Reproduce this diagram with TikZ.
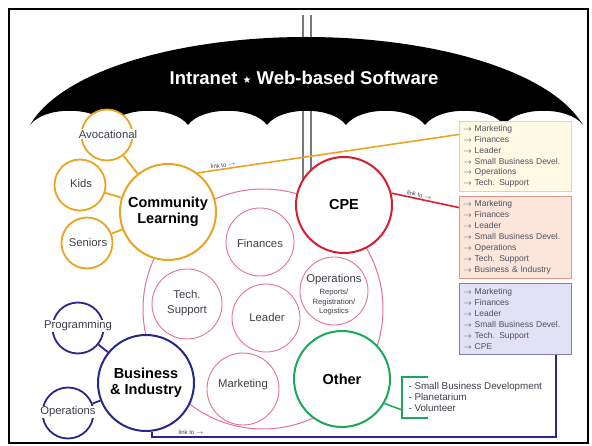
\documentclass[tikz,border=0pt]{standalone}
\usepackage{fontspec}
\setmainfont{Liberation Sans}
\newfontfamily\starfont{DejaVu Sans}
\usetikzlibrary{calc}

\definecolor{clOrange}{RGB}{234,164,36}
\definecolor{cpeRed}{RGB}{214,30,48}
\definecolor{deptPink}{RGB}{226,112,160}
\definecolor{otherGreen}{RGB}{28,168,88}
\definecolor{biNavy}{RGB}{40,40,140}
\definecolor{poleGray}{RGB}{120,120,120}
\definecolor{labelGray}{RGB}{62,62,72}
\definecolor{listGray}{RGB}{80,80,90}
\definecolor{boxOneFill}{RGB}{255,249,230}
\definecolor{boxOneLine}{RGB}{240,214,128}
\definecolor{boxTwoFill}{RGB}{252,230,220}
\definecolor{boxTwoLine}{RGB}{226,150,128}
\definecolor{boxThreeFill}{RGB}{226,226,246}
\definecolor{boxThreeLine}{RGB}{128,128,176}

\newcommand\fsz[2]{\fontsize{#1}{#2}\selectfont}
\newcommand\arr{$\rightarrow$}

\begin{document}
\begin{tikzpicture}[x=1pt,y=-1pt,
  hub/.style={circle, draw, line width=2pt, fill=white, inner sep=0pt,
    minimum size=96pt, font=\fsz{14.5}{16}\bfseries, align=center, text=black},
  leaf/.style={circle, draw, line width=1.8pt, fill=white, inner sep=0pt,
    minimum size=51pt},
  dept/.style={circle, draw=deptPink, line width=0.9pt, fill=white, inner sep=0pt,
    minimum size=68pt},
  tag/.style={font=\fsz{11.3}{15}, text=labelGray, align=center, inner sep=0.6pt},
  subtag/.style={font=\fsz{7.6}{9.5}, text=labelGray, align=center, inner sep=0pt},
  listbox/.style={draw, line width=0.8pt, anchor=north west, minimum width=112pt,
    text width=104pt, align=left, inner xsep=4pt, inner ysep=0pt,
    font=\fsz{8.5}{10.9}, text=listGray},
  linktag/.style={font=\fsz{6}{7}, text=labelGray, inner sep=1pt},
  feed/.style={line width=1.8pt}
]
\useasboundingbox (0,0) rectangle (592,446);

% outer frame
\draw[line width=2.6pt] (9,9) rectangle (588,443);

% umbrella pole
\draw[poleGray, line width=1.2pt] (303,15) -- (303,205);
\draw[poleGray, line width=1.2pt] (311,15) -- (311,205);

% umbrella canopy with scalloped rim
\fill[black] (30,125) .. controls (62,70) and (180,37) .. (306,37)
  .. controls (432,37) and (550,70) .. (583,125)
  .. controls (569,106) and (518,106) .. (504,125)
  .. controls (490,106) and (439,106) .. (425,125)
  .. controls (411,106) and (360,106) .. (346,125)
  .. controls (332,106) and (281,106) .. (267,125)
  .. controls (253,106) and (202,106) .. (188,125)
  .. controls (174,106) and (123,106) .. (109,125)
  .. controls (95,106) and (44,106) .. (30,125) -- cycle;
\node[text=white, font=\fsz{18.5}{20}\bfseries] (title) at (304,78)
  {Intranet {\starfont\fsz{10}{12}\raisebox{1.5pt}{★}} Web-based Software};

% shared departments
\draw[deptPink, line width=1pt] (263,309) circle[radius=120];
\node[dept] (fin) at (260,242) {};
\node[tag] at (260,243) {Finances};
\node[dept, minimum size=70pt] (tech) at (187,304) {};
\node[tag] at (187,303) {Tech.\\Support};
\node[dept] (lead) at (266,318) {};
\node[tag] at (267,317) {Leader};
\node[dept, minimum size=72pt] (mkt) at (243,389) {};
\node[tag] at (243,385) {Marketing};
\node[dept] (ops) at (334,291) {};
\node[tag] at (334,280) {Operations};
\node[subtag] at (334,302.5) {Reports/\\Registration/\\Logistics};

% feed line corner points
\coordinate (navyCorner) at (556,437);
\coordinate (bracketIn) at (402,410);

% community learning group
\node[hub, draw=clOrange] (cl) at (168,212) {Community\\Learning};
\node[leaf, draw=clOrange] (avo) at (107,135) {};
\node[leaf, draw=clOrange] (kids) at (80,185) {};
\node[leaf, draw=clOrange] (sen) at (87,243) {};
\draw[clOrange, feed] (avo) -- (cl);
\draw[clOrange, feed] (kids) -- (cl);
\draw[clOrange, feed] (sen) -- (cl);
\node[tag, fill=white] at (108,134) {Avocational};
\node[tag] at (81,183) {Kids};
\node[tag] at (88,242) {Seniors};

% CPE
\node[hub, draw=cpeRed] (cpe) at (344,205) {CPE};

% other
\node[hub, draw=otherGreen] (other) at (342,379) {Other};
\draw[otherGreen, line width=2pt] (428,377) -- (402,377) -- (402,418) -- (428,418);
\draw[otherGreen, line width=1.5pt] (other.-30) -- (bracketIn);
\node[anchor=west, align=left, font=\fsz{9.8}{11}, text=labelGray] (otherlist) at (405,397)
  {- Small Business Development\\- Planetarium\\- Volunteer};

% business & industry
\node[hub, draw=biNavy] (bi) at (146,383) {Business\\\&{} Industry};
\node[leaf, draw=biNavy] (prog) at (78,328) {};
\node[leaf, draw=biNavy] (bops) at (68,413) {};
\draw[biNavy, feed] (prog) -- (bi);
\draw[biNavy, feed] (bops) -- (bi);
\node[tag, fill=white] at (78,326) {Programming};
\node[tag, fill=white] at (68,412) {Operations};

% link lists
\node[listbox, draw=boxOneLine, fill=boxOneFill, minimum height=70pt] (box1) at (459,121)
  {\arr{} Marketing\\\arr{} Finances\\\arr{} Leader\\\arr{} Small Business Devel.\\\arr{} Operations\\\arr{} Tech. Support};
\node[listbox, draw=boxTwoLine, fill=boxTwoFill, minimum height=82pt] (box2) at (459,196)
  {\arr{} Marketing\\\arr{} Finances\\\arr{} Leader\\\arr{} Small Business Devel.\\\arr{} Operations\\\arr{} Tech. Support\\\arr{} Business \& Industry};
\node[listbox, draw=boxThreeLine, fill=boxThreeFill, minimum height=71pt] (box3) at (459,283)
  {\arr{} Marketing\\\arr{} Finances\\\arr{} Leader\\\arr{} Small Business Devel.\\\arr{} Tech. Support\\\arr{} CPE};

% link connectors
\draw[clOrange, line width=1.6pt] (cl.53) --
  node[linktag, pos=0.1, above, sloped] {link to \arr}
  ($(box1.north west)!0.19!(box1.south west)$);
\draw[cpeRed, line width=1.6pt] (cpe.14) --
  node[linktag, pos=0.4, above, sloped] {link to \arr}
  ($(box2.north west)!0.14!(box2.south west)$);
\draw[biNavy, line width=1.8pt] (bi.277) |- (navyCorner) -- (navyCorner |- box3.south);
\node[linktag] (bilink) at (191,432) {link to \arr};
\end{tikzpicture}
\end{document}
